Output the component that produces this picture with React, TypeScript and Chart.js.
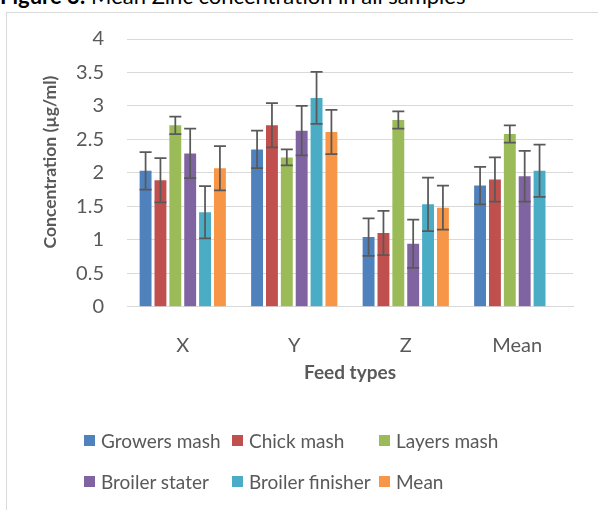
import React, { useEffect, useRef } from "react";
import { Chart, registerables } from "chart.js";

Chart.register(...registerables);

const titleBold = "Figure 3:";
const titleRest = " Mean Zinc concentration in all samples";
const xAxisTitle = "Feed types";
const yAxisTitle = "Concentration (µg/ml)";

const categories = ["X", "Y", "Z", "Mean"];
const seriesNames = ["Growers mash", "Chick mash", "Layers mash", "Broiler stater", "Broiler finisher", "Mean"];
const seriesColors = ["#4F81BD", "#C0504D", "#9BBB59", "#8064A2", "#4BACC6", "#F79646"];

const growersMash = [2.03, 2.35, 1.04, 1.81];
const chickMash = [1.89, 2.71, 1.1, 1.9];
const layersMash = [2.71, 2.23, 2.79, 2.58];
const broilerStater = [2.29, 2.63, 0.94, 1.95];
const broilerFinisher = [1.41, 3.12, 1.53, 2.03];
const meanSeries = [2.07, 2.61, 1.48, null];

const growersMashErr = [0.28, 0.28, 0.28, 0.28];
const chickMashErr = [0.33, 0.33, 0.33, 0.33];
const layersMashErr = [0.13, 0.12, 0.13, 0.13];
const broilerStaterErr = [0.37, 0.37, 0.36, 0.38];
const broilerFinisherErr = [0.39, 0.39, 0.4, 0.39];
const meanSeriesErr = [0.33, 0.33, 0.33, null];

const yMin = 0;
const yMax = 4;
const yStep = 0.5;

const seriesValues = [growersMash, chickMash, layersMash, broilerStater, broilerFinisher, meanSeries];
const seriesErrors = [growersMashErr, chickMashErr, layersMashErr, broilerStaterErr, broilerFinisherErr, meanSeriesErr];

const FONT = "Lato, 'Open Sans', sans-serif";
const TEXT = "#595959";

const errorBarPlugin = {
  id: "errorBars",
  afterDatasetsDraw(chart: any) {
    const { ctx } = chart;
    const yScale = chart.scales.y;
    ctx.save();
    ctx.strokeStyle = "#595959";
    ctx.lineWidth = 1.75;
    chart.data.datasets.forEach((ds: any, i: number) => {
      const meta = chart.getDatasetMeta(i);
      meta.data.forEach((bar: any, j: number) => {
        const v = ds.data[j];
        const e = ds.errors ? ds.errors[j] : null;
        if (v == null || e == null) return;
        const x = bar.x;
        const yTop = yScale.getPixelForValue(v + e);
        const yBot = yScale.getPixelForValue(v - e);
        const cap = 6;
        ctx.beginPath();
        ctx.moveTo(x, yTop);
        ctx.lineTo(x, yBot);
        ctx.moveTo(x - cap, yTop);
        ctx.lineTo(x + cap, yTop);
        ctx.moveTo(x - cap, yBot);
        ctx.lineTo(x + cap, yBot);
        ctx.stroke();
      });
    });
    ctx.restore();
  },
};

const yTitlePlugin = {
  id: "yTitle",
  afterDraw(chart: any) {
    const { ctx, chartArea } = chart;
    ctx.save();
    ctx.translate(chartArea.left - 77, chartArea.top + 123);
    ctx.rotate(-Math.PI / 2);
    ctx.font = `bold 17.5px ${FONT}`;
    ctx.fillStyle = TEXT;
    ctx.textAlign = "center";
    ctx.textBaseline = "middle";
    ctx.fillText(yAxisTitle, 0, 0);
    ctx.restore();
  },
};

function ChartCanvas() {
  const ref = useRef<HTMLCanvasElement | null>(null);
  useEffect(() => {
    if (!ref.current) return;
    const chart = new Chart(ref.current, {
      type: "bar",
      data: {
        labels: categories,
        datasets: seriesNames.map((name, i) => ({
          label: name,
          data: seriesValues[i],
          errors: seriesErrors[i],
          backgroundColor: seriesColors[i],
          borderWidth: 0,
          categoryPercentage: 0.8,
          barPercentage: 0.8,
        })) as any,
      },
      options: {
        responsive: false,
        animation: false,
        layout: { padding: { left: 0, right: 25, top: 39, bottom: 0 } },
        plugins: {
          legend: { display: false },
          tooltip: { enabled: false },
          title: { display: false },
        },
        scales: {
          x: {
            grid: { display: false },
            border: { display: true, color: "#D9D9D9", width: 1 },
            ticks: { color: TEXT, font: { family: FONT, size: 20 }, padding: 19 },
            title: {
              display: true,
              text: xAxisTitle,
              color: TEXT,
              font: { family: FONT, size: 19, weight: "bold" },
              padding: { top: 0, bottom: 125.6 },
            },
            afterFit(scale: any) {
              scale.height = 203.3;
            },
          },
          y: {
            min: yMin,
            max: yMax,
            ticks: {
              stepSize: yStep,
              color: TEXT,
              font: { family: FONT, size: 20 },
              padding: 23,
              callback: (v: any) => String(Number(v)),
            },
            grid: { color: "#D9D9D9", lineWidth: 1, drawTicks: false },
            border: { display: false },
            afterFit(scale: any) {
              scale.width = 127;
            },
          },
        },
      },
      plugins: [errorBarPlugin, yTitlePlugin],
    });
    return () => chart.destroy();
  }, []);
  return (
    <canvas
      ref={ref}
      width={598}
      height={510}
      style={{ position: "absolute", left: 0, top: 0, width: 598, height: 510 }}
    />
  );
}

function Legend() {
  const cols = [84, 232, 379];
  const rows = [440, 481.5];
  return (
    <>
      {seriesNames.map((name, i) => {
        const left = cols[i % 3];
        const top = rows[Math.floor(i / 3)];
        return (
          <div
            key={name}
            style={{
              position: "absolute",
              left,
              top: top - 12,
              height: 24,
              display: "flex",
              alignItems: "center",
              whiteSpace: "nowrap",
              fontFamily: FONT,
              fontSize: 19,
              color: TEXT,
            }}
          >
            <span style={{ display: "inline-block", width: 11, height: 11, background: seriesColors[i], marginRight: 6 }} />
            <span>{name}</span>
          </div>
        );
      })}
    </>
  );
}

export default function App() {
  return (
    <div
      style={{
        position: "fixed",
        left: 0,
        top: 0,
        width: 598,
        height: 510,
        overflow: "hidden",
        background: "#fff",
      }}
    >
      <div
        style={{
          position: "absolute",
          left: 0,
          top: -15.5,
          fontFamily: FONT,
          fontSize: 22,
          lineHeight: "22px",
          color: "#000",
          whiteSpace: "nowrap",
        }}
      >
        <b>{titleBold}</b>
        <span>{titleRest}</span>
      </div>
      <div
        style={{
          position: "absolute",
          left: 6,
          top: 12,
          width: 800,
          height: 800,
          border: "1px solid #D9D9D9",
          boxSizing: "border-box",
        }}
      />
      <ChartCanvas />
      <Legend />
    </div>
  );
}
